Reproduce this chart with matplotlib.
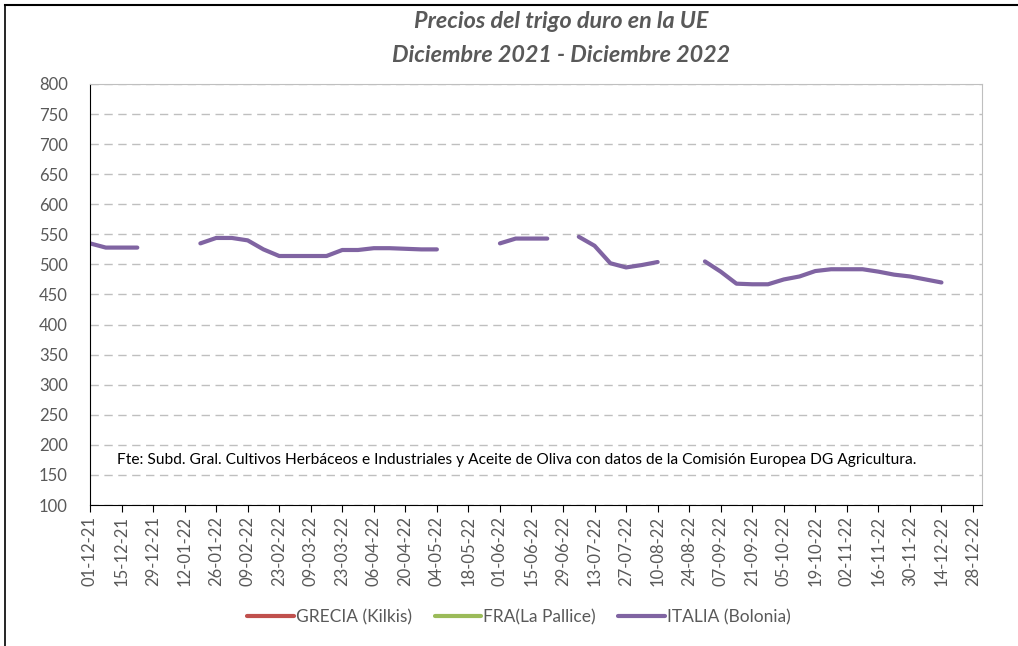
import numpy as np
import pandas as pd
import matplotlib
matplotlib.use("Agg")
import matplotlib.pyplot as plt
import matplotlib.dates as mdates
from matplotlib.lines import Line2D

# Semanas (miércoles) desde 01-12-21 hasta 28-12-22
fechas = pd.date_range("2021-12-01", "2022-12-28", freq="7D")

nan = np.nan
italia = [535, 528, 528, 528, nan, nan, nan, 535, 544, 544, 540, 525, 514, 514,
          514, 514, 524, 524, 527, 527, 526, 525, 525, nan, nan, nan, 535, 543,
          543, 543, nan, 546, 531, 502, 495, 499, 504, nan, nan, 505, 488, 468,
          467, 467, 475, 480, 489, 492, 492, 492, 488, 483, 480, 475, 470, nan, nan]
grecia = [nan] * len(fechas)
francia = [nan] * len(fechas)

series = ["GRECIA (Kilkis)", "FRA(La Pallice)", "ITALIA (Bolonia)"]
colores = ["#C0504D", "#9BBB59", "#8064A2"]

plt.rcParams["font.family"] = ["Lato", "DejaVu Sans"]
gris = "#595959"

fig = plt.figure(figsize=(10.18, 6.46), dpi=100)
ax = fig.add_axes([90 / 1018, 1 - 505 / 646, (982 - 90) / 1018, (505 - 84) / 646])

for vals, nombre, col in zip([grecia, francia, italia], series, colores):
    ax.plot(fechas, vals, color=col, linewidth=3, solid_capstyle="round",
            solid_joinstyle="round", label=nombre)

ax.set_ylim(100, 800)
ax.set_yticks(range(100, 801, 50))
ax.set_xlim(fechas[0], fechas[-1] + pd.Timedelta(days=4))
ax.set_xticks(fechas[::2])
ax.xaxis.set_major_formatter(mdates.DateFormatter("%d-%m-%y"))

ax.grid(axis="y", color="#BFBFBF", linestyle=(0, (6, 4)), linewidth=1)
ax.set_axisbelow(True)

ax.spines["left"].set_color("black")
ax.spines["bottom"].set_color("black")
ax.spines["top"].set_color("#BFBFBF")
ax.spines["right"].set_color("#BFBFBF")
ax.tick_params(axis="x", direction="out", length=5, color="black",
               labelrotation=90, labelsize=12, labelcolor=gris, pad=3)
ax.tick_params(axis="y", length=0, labelsize=12, labelcolor=gris, pad=16)

ax.text(0.03, 0.108,
        "Fte: Subd. Gral. Cultivos Herbáceos e Industriales y Aceite de Oliva "
        "con datos de la Comisión Europea DG Agricultura.",
        transform=ax.transAxes, fontsize=11.2, color="black", va="center")

fig.text(561 / 1018, 1 - 22 / 646, "Precios del trigo duro en la UE",
         ha="center", va="center", fontsize=16.8, fontweight="bold",
         fontstyle="italic", color=gris)
fig.text(561 / 1018, 1 - 56 / 646, "Diciembre 2021 - Diciembre 2022",
         ha="center", va="center", fontsize=16.8, fontweight="bold",
         fontstyle="italic", color=gris)

handles = [Line2D([0], [0], color=c, linewidth=3, solid_capstyle="round")
           for c in colores]
fig.legend(handles, series, loc="center", bbox_to_anchor=(519 / 1018, 1 - 617 / 646),
           ncol=3, frameon=False, fontsize=12.5, labelcolor=gris,
           handlelength=2.7, handletextpad=0.1, columnspacing=1.3)

# marco del gráfico (bordes superior e izquierdo)
fig.add_artist(Line2D([5 / 1018, 5 / 1018], [0, 1 - 5 / 646], color="black",
                      linewidth=1.2, transform=fig.transFigure))
fig.add_artist(Line2D([5 / 1018, 1], [1 - 5 / 646, 1 - 5 / 646], color="black",
                      linewidth=1.5, transform=fig.transFigure))

fig.savefig("out.png", dpi=100)
